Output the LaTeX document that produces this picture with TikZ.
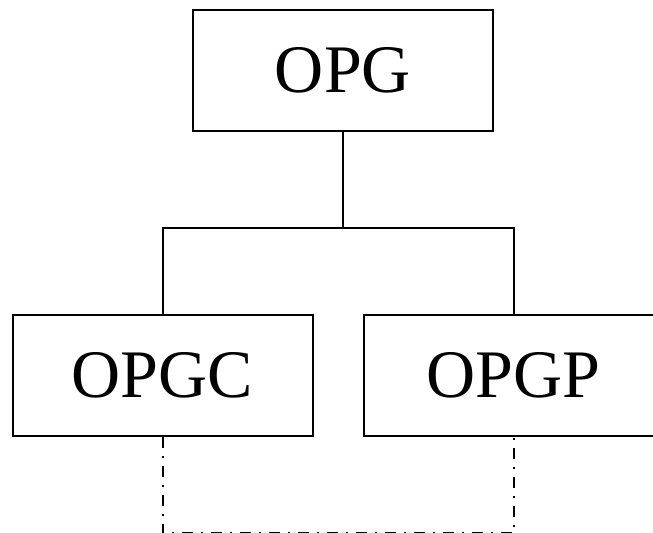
\documentclass[tikz,border=0pt]{standalone}
\usepackage{fontspec}
\setmainfont{Liberation Serif}
\usetikzlibrary{positioning}
\begin{document}
\begin{tikzpicture}[line width=1pt, main/.style = {draw, rectangle, minimum width=150pt, minimum height=60.5pt, inner sep=0pt, font=\fontsize{34}{40}\selectfont}]
	\useasboundingbox (0,0) rectangle (326.5pt,-266.5pt);
	\node[main] (OPG) at (171.5pt,-35.25pt) {OPG};
	\node[main] (OPGC) [below=91pt of OPG, xshift=-90.25pt] {OPGC};
	\node[main] (OPGP) [below=91pt of OPG, xshift=85.25pt] {OPGP};
	\coordinate[below=48pt of OPG.south] (fork);
	\coordinate[below=48.2pt of OPGC.south] (low);
	\draw (OPG.south) -- (fork);
	\draw (OPGC.north) |- (fork) -| (OPGP.north);
	\draw[dash pattern=on 5.5pt off 4pt on 1pt off 4pt] (OPGC.south) -- (low) -| (OPGP.south);
	\end{tikzpicture}
\end{document}
